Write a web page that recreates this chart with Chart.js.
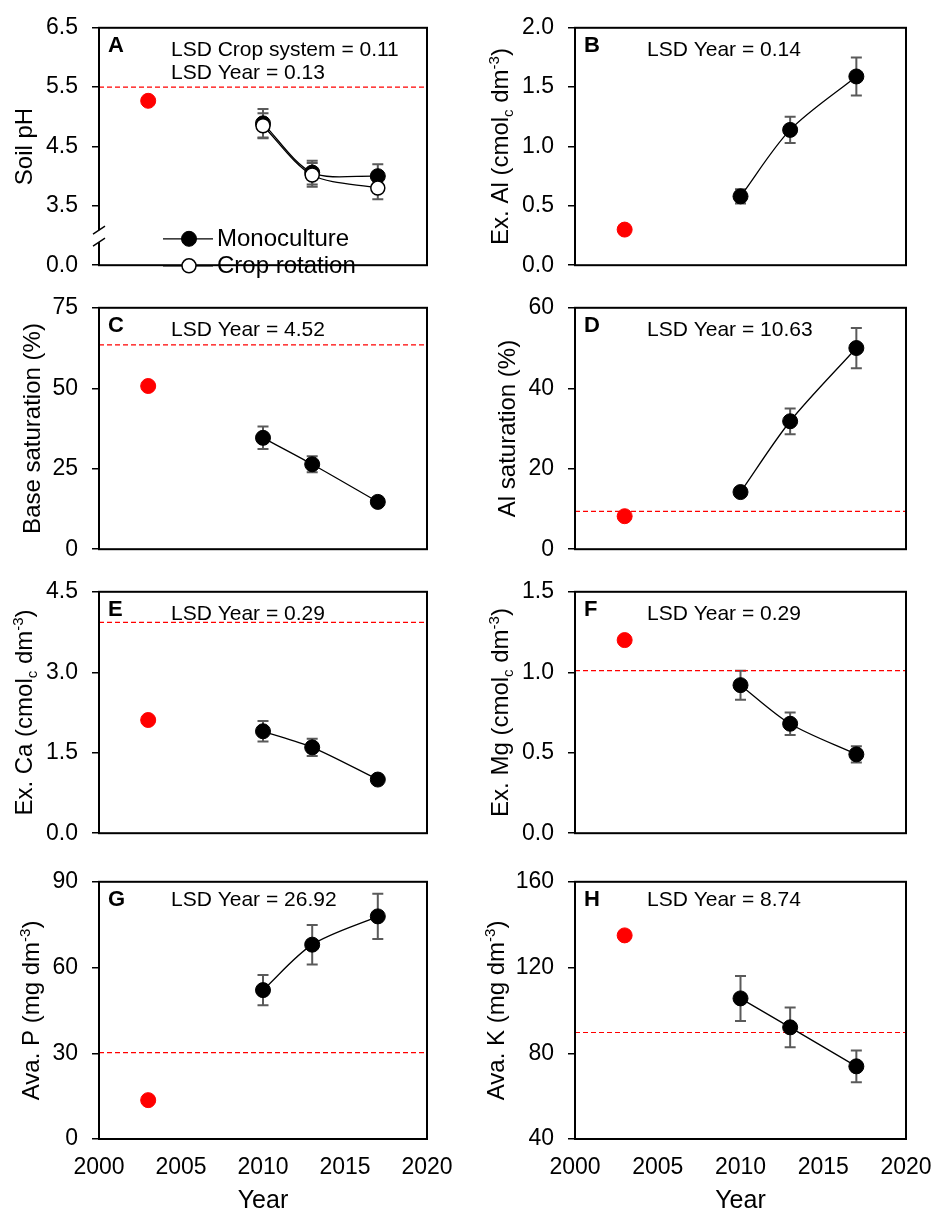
<!DOCTYPE html>
<html>
<head>
<meta charset="utf-8">
<script src="https://cdn.jsdelivr.net/npm/chart.js@4.4.1/dist/chart.umd.min.js"></script>
<style>
  html, body { margin: 0; padding: 0; background: #fff; overflow: hidden; }
  body { width: 935px; height: 1210px; position: relative; }
  canvas { position: absolute; }
</style>
</head>
<body>
<script>
// x axis (years)
const xTicks = [2000, 2005, 2010, 2015, 2020];
const years = [2010, 2013, 2017];
const baseYear = [2003];

// A - soil pH (0.0 label sits on a broken axis)
const phTicks = [2.5, 3.5, 4.5, 5.5, 6.5];
const phTickLabels = ['0.0', '3.5', '4.5', '5.5', '6.5'];
const phMono = [4.89, 4.06, 4.00];
const phMonoErr = [0.24, 0.20, 0.20];
const phRot = [4.85, 4.02, 3.80];
const phRotErr = [0.21, 0.20, 0.19];
const phBase = [5.27];
const phRef = 5.5;

// B - exchangeable Al
const alTicks = [0, 0.5, 1.0, 1.5, 2.0];
const alTickLabels = ['0.0', '0.5', '1.0', '1.5', '2.0'];
const alVals = [0.58, 1.14, 1.59];
const alErr = [0.06, 0.11, 0.16];
const alBase = [0.30];

// C - base saturation
const bsTicks = [0, 25, 50, 75];
const bsTickLabels = ['0', '25', '50', '75'];
const bsVals = [34.6, 26.4, 14.7];
const bsErr = [3.5, 2.5, 0.8];
const bsBase = [50.7];
const bsRef = 63.5;

// D - Al saturation
const asTicks = [0, 20, 40, 60];
const asTickLabels = ['0', '20', '40', '60'];
const asVals = [14.2, 31.8, 50.0];
const asErr = [1.0, 3.2, 5.0];
const asBase = [8.2];
const asRef = 9.4;

// E - exchangeable Ca
const caTicks = [0, 1.5, 3.0, 4.5];
const caTickLabels = ['0.0', '1.5', '3.0', '4.5'];
const caVals = [1.90, 1.60, 1.00];
const caErr = [0.19, 0.16, 0.05];
const caBase = [2.11];
const caRef = 3.93;

// F - exchangeable Mg
const mgTicks = [0, 0.5, 1.0, 1.5];
const mgTickLabels = ['0.0', '0.5', '1.0', '1.5'];
const mgVals = [0.92, 0.68, 0.49];
const mgErr = [0.09, 0.07, 0.05];
const mgBase = [1.20];
const mgRef = 1.01;

// G - available P
const pTicks = [0, 30, 60, 90];
const pTickLabels = ['0', '30', '60', '90'];
const pVals = [52.1, 68.0, 77.9];
const pErr = [5.3, 6.9, 7.9];
const pBase = [13.6];
const pRef = 30.2;

// H - available K
const kTicks = [40, 80, 120, 160];
const kTickLabels = ['40', '80', '120', '160'];
const kVals = [105.6, 92.1, 73.9];
const kErr = [10.5, 9.3, 7.4];
const kBase = [135];
const kRef = 89.7;

const FONT = "'Liberation Sans', Arial, sans-serif";
const unitC = (name) => [{t: name + ' (cmol'}, {t: 'c', sub: true}, {t: ' dm'}, {t: '-3', sup: true}, {t: ')'}];
const unitMg = (name) => [{t: name + ' (mg dm'}, {t: '-3', sup: true}, {t: ')'}];

const panels = [
  {letter: 'A', col: 0, row: 0, ticks: phTicks, labels: phTickLabels, title: [{t: 'Soil pH'}], titleX: 32,
   lsd: ['LSD Crop system = 0.11', 'LSD Year = 0.13'], base: phBase, ref: phRef, legend: true, brk: true,
   series: [{label: 'Crop rotation', vals: phRot, err: phRotErr, open: true},
            {label: 'Monoculture', vals: phMono, err: phMonoErr}]},
  {letter: 'B', col: 1, row: 0, ticks: alTicks, labels: alTickLabels, title: unitC('Ex. Al'), titleX: 508,
   lsd: ['LSD Year = 0.14'], base: alBase, ref: null,
   series: [{label: 'Monoculture', vals: alVals, err: alErr}]},
  {letter: 'C', col: 0, row: 1, ticks: bsTicks, labels: bsTickLabels, title: [{t: 'Base saturation (%)'}], titleX: 40,
   lsd: ['LSD Year = 4.52'], base: bsBase, ref: bsRef,
   series: [{label: 'Monoculture', vals: bsVals, err: bsErr}]},
  {letter: 'D', col: 1, row: 1, ticks: asTicks, labels: asTickLabels, title: [{t: 'Al saturation (%)'}], titleX: 515,
   lsd: ['LSD Year = 10.63'], base: asBase, ref: asRef,
   series: [{label: 'Monoculture', vals: asVals, err: asErr}]},
  {letter: 'E', col: 0, row: 2, ticks: caTicks, labels: caTickLabels, title: unitC('Ex. Ca'), titleX: 32,
   lsd: ['LSD Year = 0.29'], base: caBase, ref: caRef,
   series: [{label: 'Monoculture', vals: caVals, err: caErr}]},
  {letter: 'F', col: 1, row: 2, ticks: mgTicks, labels: mgTickLabels, title: unitC('Ex. Mg'), titleX: 508,
   lsd: ['LSD Year = 0.29'], base: mgBase, ref: mgRef,
   series: [{label: 'Monoculture', vals: mgVals, err: mgErr}]},
  {letter: 'G', col: 0, row: 3, ticks: pTicks, labels: pTickLabels, title: unitMg('Ava. P'), titleX: 39,
   lsd: ['LSD Year = 26.92'], base: pBase, ref: pRef,
   series: [{label: 'Monoculture', vals: pVals, err: pErr}]},
  {letter: 'H', col: 1, row: 3, ticks: kTicks, labels: kTickLabels, title: unitMg('Ava. K'), titleX: 504,
   lsd: ['LSD Year = 8.74'], base: kBase, ref: kRef,
   series: [{label: 'Monoculture', vals: kVals, err: kErr}]}
];

// plot area placement on the page
const rows = [[24, 277], [304, 561], [588, 845], [878, 1139]];
const cols = [{left: 0, width: 465, axisW: 99, padR: 38}, {left: 465, width: 470, axisW: 110, padR: 29}];

const deco = {
  id: 'deco',
  beforeDatasetsDraw(chart, args, o) {
    const ctx = chart.ctx, xs = chart.scales.x, ys = chart.scales.y;
    ctx.save();
    ctx.strokeStyle = '#5a5a5a';
    ctx.lineWidth = 2;
    chart.data.datasets.forEach(ds => {
      if (!ds.err) return;
      ds.data.forEach((p, j) => {
        const px = xs.getPixelForValue(p.x);
        const t = ys.getPixelForValue(p.y + ds.err[j]);
        const b = ys.getPixelForValue(p.y - ds.err[j]);
        ctx.beginPath();
        ctx.moveTo(px, t); ctx.lineTo(px, b);
        ctx.moveTo(px - 5.5, t); ctx.lineTo(px + 5.5, t);
        ctx.moveTo(px - 5.5, b); ctx.lineTo(px + 5.5, b);
        ctx.stroke();
      });
    });
    ctx.restore();
  },
  afterDraw(chart, args, o) {
    const ctx = chart.ctx, a = chart.chartArea;
    ctx.save();
    // frame
    ctx.strokeStyle = '#000';
    ctx.lineWidth = 2;
    ctx.strokeRect(a.left, a.top, a.right - a.left, a.bottom - a.top);

    if (o.brk) {
      const yc = a.bottom - 29;
      ctx.fillStyle = '#fff';
      ctx.fillRect(a.left - 3, yc - 6, 6, 12);
      ctx.lineWidth = 1.4;
      ctx.beginPath();
      ctx.moveTo(a.left - 6, yc - 2); ctx.lineTo(a.left + 6, yc - 10);
      ctx.moveTo(a.left - 6, yc + 10); ctx.lineTo(a.left + 6, yc + 2);
      ctx.stroke();
    }

    ctx.fillStyle = '#000';
    ctx.textBaseline = 'middle';
    ctx.textAlign = 'left';
    ctx.font = 'bold 22px ' + FONT;
    ctx.fillText(o.letter, a.left + 9, a.top + 18);

    ctx.font = '21px ' + FONT;
    o.lsd.forEach((s, i) => ctx.fillText(s, a.left + 72, a.top + o.lsdY + i * 23));

    // y title with sub/superscripts
    ctx.save();
    ctx.translate(o.titleX, (a.top + a.bottom) / 2);
    ctx.rotate(-Math.PI / 2);
    ctx.textBaseline = 'alphabetic';
    const segFont = s => (s.sub || s.sup ? '15px ' : '24px ') + FONT;
    let total = 0;
    o.title.forEach(s => { ctx.font = segFont(s); total += ctx.measureText(s.t).width; });
    let cx = -total / 2;
    o.title.forEach(s => {
      ctx.font = segFont(s);
      const dy = s.sub ? 5 : s.sup ? -9 : 0;
      ctx.fillText(s.t, cx, dy);
      cx += ctx.measureText(s.t).width;
    });
    ctx.restore();

    if (o.legend) {
      const dsets = chart.data.datasets;
      const items = [dsets.find(d => d.label === 'Monoculture'), dsets.find(d => d.label === 'Crop rotation')];
      items.forEach((d, i) => {
        const y = a.top + 211 + i * 27;
        ctx.strokeStyle = '#000';
        ctx.lineWidth = 1.3;
        ctx.beginPath();
        ctx.moveTo(a.left + 64, y); ctx.lineTo(a.left + 114, y);
        ctx.stroke();
        ctx.beginPath();
        ctx.arc(a.left + 90, y, d.pointRadius, 0, Math.PI * 2);
        ctx.fillStyle = d.pointBackgroundColor;
        ctx.fill();
        ctx.lineWidth = d.pointBorderWidth;
        ctx.stroke();
        ctx.fillStyle = '#000';
        ctx.font = '24px ' + FONT;
        ctx.fillText(d.label, a.left + 118, y + 1);
      });
    }
    ctx.restore();
  }
};

panels.forEach(p => {
  const c = cols[p.col];
  const [pt, pb] = rows[p.row];
  const bottomRow = p.row === 3;
  const padB = bottomRow ? 0 : 16;
  const xH = bottomRow ? 77 : 0;
  const cv = document.createElement('canvas');
  const h = (pb - pt) + 24 + padB + xH;
  cv.width = c.width; cv.height = h;
  cv.style.left = c.left + 'px';
  cv.style.top = (pt - 24) + 'px';
  cv.style.width = c.width + 'px';
  cv.style.height = h + 'px';
  document.body.appendChild(cv);

  const datasets = p.series.map((s, i) => ({
    label: s.label,
    data: years.map((yr, j) => ({x: yr, y: s.vals[j]})),
    err: s.err,
    borderColor: '#000',
    borderWidth: 1.3,
    tension: 0.3,
    pointRadius: s.open ? 7 : 7.5,
    pointBackgroundColor: s.open ? '#fff' : '#000',
    pointBorderColor: '#000',
    pointBorderWidth: s.open ? 1.5 : 1,
    order: i
  }));
  datasets.push({
    label: 'base',
    data: baseYear.map((yr, j) => ({x: yr, y: p.base[j]})),
    showLine: false,
    pointRadius: 7.5,
    pointBackgroundColor: '#ff0000',
    pointBorderColor: '#ff0000',
    order: 5
  });
  if (p.ref !== null) {
    datasets.push({
      label: 'ref',
      data: [{x: xTicks[0], y: p.ref}, {x: xTicks[xTicks.length - 1], y: p.ref}],
      borderColor: '#ff0000',
      borderWidth: 1.2,
      borderDash: [5, 3],
      pointRadius: 0,
      order: 6
    });
  }

  new Chart(cv, {
    type: 'line',
    data: {datasets},
    options: {
      responsive: false,
      animation: false,
      events: [],
      layout: {padding: {top: 24, bottom: padB, left: 0, right: c.padR}},
      plugins: {
        legend: {display: false},
        tooltip: {enabled: false},
        deco: {letter: p.letter, lsd: p.lsd, lsdY: bottomRow ? 18 : 22, title: p.title, titleX: p.titleX - c.left,
               legend: !!p.legend, brk: !!p.brk}
      },
      scales: {
        x: {
          type: 'linear',
          min: xTicks[0],
          max: xTicks[xTicks.length - 1],
          afterBuildTicks: s => { s.ticks = xTicks.map(v => ({value: v})); },
          afterFit: s => { s.height = xH; s.paddingLeft = 0; s.paddingRight = 0; },
          grid: {display: false, drawTicks: false},
          border: {display: false},
          ticks: {display: bottomRow, autoSkip: false, maxRotation: 0, padding: 15, color: '#000',
                  font: {family: FONT, size: 23}, callback: v => String(v)},
          title: {display: bottomRow, text: 'Year', color: '#000', padding: 0, font: {family: FONT, size: 25}}
        },
        y: {
          min: p.ticks[0],
          max: p.ticks[p.ticks.length - 1],
          afterBuildTicks: s => { s.ticks = p.ticks.map(v => ({value: v})); },
          afterFit: s => { s.width = c.axisW; },
          grid: {display: true, drawOnChartArea: false, drawTicks: true, tickLength: 7, color: '#000', lineWidth: 1.5},
          border: {display: false},
          ticks: {autoSkip: false, padding: 14, color: '#000', font: {family: FONT, size: 23},
                  callback: (v, i) => p.labels[i]}
        }
      }
    },
    plugins: [deco]
  });
});
</script>
</body>
</html>
